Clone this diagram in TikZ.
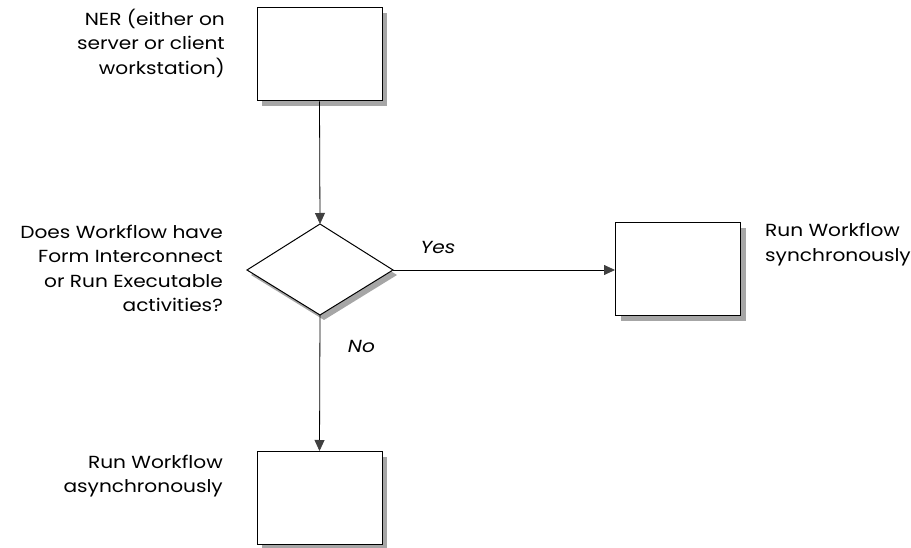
\documentclass[tikz,border=0pt]{standalone}
\usepackage{fontspec}
\setmainfont{Poppins}[FakeStretch=1.15]
\usetikzlibrary{arrows.meta,shapes.geometric}
\definecolor{shadowgray}{HTML}{A6A6A6}
\definecolor{tipgray}{HTML}{404040}
\tikzset{
  box/.style={draw=black,line width=1pt,fill=white,minimum width=125pt,minimum height=93pt,inner sep=0pt},
  boxshadow/.style={fill=shadowgray,draw=none,minimum width=125pt,minimum height=93pt,inner sep=0pt},
  lbl/.style={font=\fontsize{17.5}{24.5}\selectfont,inner sep=0pt},
  conn/.style={line width=0.8pt,-{Triangle[length=11pt,width=10pt,fill=tipgray,color=tipgray]}},
  plain/.style={line width=0.8pt}
}
\begin{document}
\begin{tikzpicture}[x=1pt,y=-1pt]
\useasboundingbox (0,0) rectangle (911,548);
% shadows
\node[boxshadow] at (324.5,59.5) {};
\node[boxshadow] at (683,274.5) {};
\node[boxshadow] at (324.5,503) {};
\fill[shadowgray] (251,275) -- (324,229) -- (397,275) -- (324,320) -- cycle;
% boxes
\node[box] (ner) at (319.5,54.5) {};
\node[box] (sync) at (678,269.5) {};
\node[box] (async) at (319.5,498) {};
\draw[line width=1pt,fill=white] (247,270) coordinate (dl) -- (320,224) coordinate (dt) -- (393,270) coordinate (dr) -- (320,315) coordinate (db) -- cycle;
% connectors
\draw[conn] (ner.south) -- (dt);
\draw[conn] (db) -- (async.north);
\draw[conn] (dr) -- (dr -| sync.west);
% labels
\node[lbl,align=right,anchor=east] (t1) at (225,43) {NER (either on\\server or client\\workstation)};
\node[lbl,align=right,anchor=east] (t2) at (223,268.5) {Does Workflow have\\Form Interconnect\\or Run Executable\\activities?};
\node[lbl,align=left,anchor=west] (t3) at (765,244.5) {Run Workflow\\synchronously};
\node[lbl,align=right,anchor=east] (t4) at (223,476) {Run Workflow\\asynchronously};
\node[lbl,font=\fontsize{17.5}{24.5}\selectfont\itshape] (yes) at (438,247) {Yes};
\node[lbl,font=\fontsize{17.5}{24.5}\selectfont\itshape] (no) at (361.5,346) {No};
\end{tikzpicture}
\end{document}
